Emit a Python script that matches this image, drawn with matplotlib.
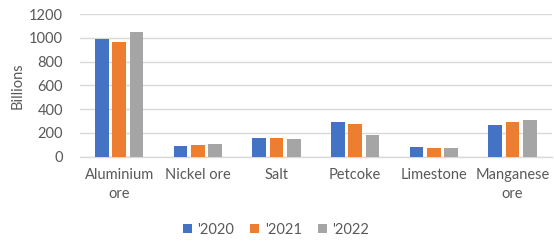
import matplotlib
matplotlib.use("Agg")
import matplotlib.pyplot as plt
import numpy as np

categories = ["Aluminium\nore", "Nickel ore", "Salt", "Petcoke", "Limestone", "Manganese\nore"]
series_names = ["'2020", "'2021", "'2022"]
v2020 = [987, 92, 160, 292, 84, 267]
v2021 = [967, 101, 157, 275, 76, 289]
v2022 = [1051, 107, 149, 182, 73, 306]
yticks = [0, 200, 400, 600, 800, 1000, 1200]
colors = ["#4472C4", "#ED7D31", "#A5A5A5"]

plt.rcParams['font.family'] = ['Lato', 'DejaVu Sans']
fs = 10.5
fig = plt.figure(figsize=(5.54, 2.42), dpi=100)
ax = fig.add_axes([0.144, 0.3525, 0.852, 0.5895])

x = np.arange(len(categories))
step = 0.22
width = 0.175
for i, (vals, name, c) in enumerate(zip([v2020, v2021, v2022], series_names, colors)):
    ax.bar(x + (i - 1) * step, vals, width, color=c, label=name, zorder=3)

ax.set_xlim(-0.5, len(categories) - 0.5)
ax.set_ylim(0, 1200)
ax.set_yticks(yticks)
ax.set_xticks(x)
ax.set_xticklabels(categories, fontsize=fs, color="#595959", linespacing=1.45)
ax.tick_params(axis='y', labelsize=fs, colors="#595959", length=0, pad=12)
ax.tick_params(axis='x', length=0, pad=8)
ax.grid(axis='y', color="#D9D9D9", linewidth=1, zorder=0)
for s in ["top", "right", "left"]:
    ax.spines[s].set_visible(False)
ax.spines["bottom"].set_color("#D9D9D9")
ax.spines["bottom"].set_linewidth(1)
ax.set_ylabel("Billions", fontsize=fs, color="#595959", labelpad=3)

fig.legend(loc="center", bbox_to_anchor=(276 / 554, 1 - 230 / 242), ncol=3, frameon=False,
           fontsize=fs, handlelength=0.6, handleheight=0.6, handletextpad=0.4, columnspacing=1.1,
           labelcolor="#595959")

fig.savefig("out.png", dpi=100)
